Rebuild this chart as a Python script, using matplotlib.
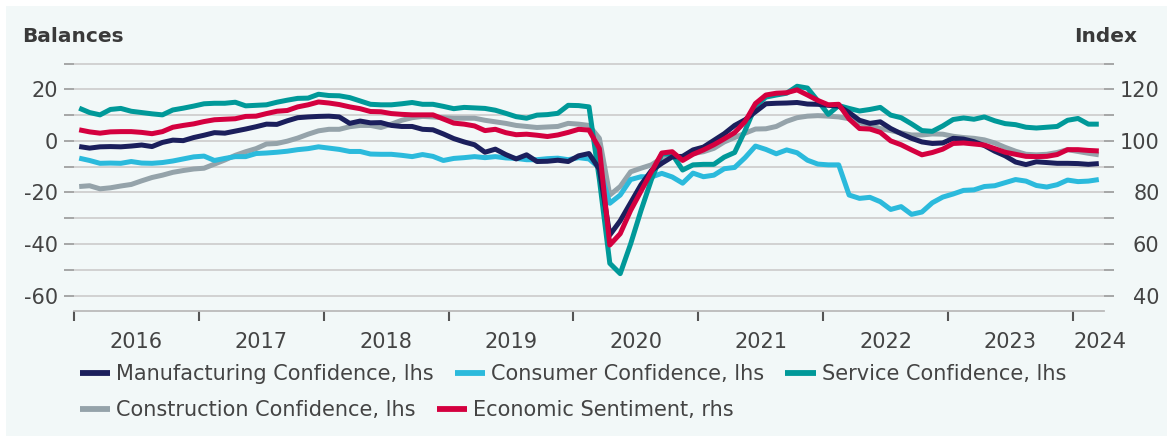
import numpy as np
import matplotlib
matplotlib.use('Agg')
import matplotlib.pyplot as plt
from matplotlib.patches import Rectangle
from matplotlib.lines import Line2D
from matplotlib.ticker import FixedLocator, FuncFormatter

plt.rcParams['font.family'] = ['DejaVu Sans']
plt.rcParams['axes.unicode_minus'] = False

# monthly data, Jan 2016 - Mar 2024
start_year = 2016
manufacturing = [-2.2, -2.8, -2.3, -2.2, -2.3, -2.0, -1.6, -2.2, -0.6, 0.3, 0.1, 1.3, 2.2, 3.2, 3.0, 3.8,
                 4.6, 5.5, 6.5, 6.4, 7.8, 9.0, 9.3, 9.5, 9.6,
                 9.3, 6.8, 7.7, 7.0, 7.1, 6.0, 5.6, 5.6, 4.5, 4.3, 2.7, 0.9, -0.4, -1.5, -4.4, -3.2,
                 -5.3, -7.0, -5.4, -8.0, -7.9, -7.5, -8.0, -5.8,
                 -4.9, -11.0, -36.5, -31.0, -24.0, -17.0, -11.5, -8.7, -6.2, -6.0, -3.5, -2.4, 0.2,
                 2.8, 6.0, 8.2, 11.3, 14.4, 14.6, 14.7, 14.9, 14.3, 14.2, 13.8,
                 13.5, 11.0, 8.0, 6.8, 7.4, 4.8, 2.8, 1.0, -0.4, -1.0, -0.8, 1.0, 0.7, -0.3, -1.8,
                 -4.0, -5.8, -8.2, -9.2, -8.1, -8.4, -8.7, -8.7, -8.8, -9.1, -8.8]
consumer = [-6.7, -7.6, -8.7, -8.6, -8.7, -8.0, -8.6, -8.7, -8.4, -7.8, -7.0, -6.2, -5.9, -7.6, -6.8, -6.1,
            -6.1, -4.9, -4.7, -4.4, -4.0, -3.4, -3.0, -2.3, -2.8,
            -3.3, -4.1, -4.1, -5.1, -5.2, -5.2, -5.6, -6.1, -5.3, -6.0, -7.6, -6.8, -6.5, -6.1, -6.5, -6.1,
            -6.6, -6.8, -7.3, -7.3, -6.9, -6.7, -7.3, -6.5,
            -7.0, -10.5, -24.2, -21.0, -15.0, -13.9, -14.0, -12.6, -14.0, -16.4, -12.5, -13.9, -13.3,
            -10.8, -10.3, -6.5, -2.0, -3.3, -5.0, -3.5, -4.6, -7.5, -9.0, -9.3,
            -9.3, -21.0, -22.3, -21.9, -23.6, -26.6, -25.5, -28.5, -27.6, -24.0, -21.8, -20.6, -19.2,
            -19.0, -17.7, -17.4, -16.2, -15.0, -15.6, -17.3, -17.9, -17.0, -15.2, -15.8, -15.6, -15.0]
service = [12.7, 11.0, 10.1, 12.2, 12.6, 11.5, 11.0, 10.5, 10.1, 12.0, 12.7, 13.5, 14.4, 14.6, 14.6, 15.0,
           13.6, 13.8, 14.0, 15.0, 15.8, 16.5, 16.6, 18.1, 17.6,
           17.5, 16.8, 15.5, 14.2, 14.0, 14.0, 14.4, 14.9, 14.2, 14.2, 13.4, 12.5, 13.0, 12.8, 12.6, 11.9,
           10.7, 9.4, 8.8, 10.0, 10.2, 10.7, 13.8, 13.7,
           13.2, -15.0, -47.5, -51.5, -40.0, -27.0, -15.0, -5.0, -5.2, -11.3, -9.3, -9.1, -9.1,
           -6.3, -4.5, 4.0, 13.5, 17.0, 17.8, 18.5, 21.2, 20.5, 15.5, 10.3,
           13.7, 12.6, 11.6, 12.2, 13.0, 10.0, 9.0, 6.6, 4.0, 3.7, 5.8, 8.3, 8.9,
           8.4, 9.3, 7.8, 6.7, 6.3, 5.3, 5.0, 5.3, 5.6, 8.0, 8.7, 6.5, 6.5]
construction = [-17.7, -17.4, -18.6, -18.2, -17.5, -16.9, -15.5, -14.2, -13.3, -12.2, -11.5, -10.9, -10.6,
                -9.0, -7.4, -5.6, -4.2, -3.0, -1.2, -1.0, -0.1, 1.1, 2.6, 3.9, 4.5,
                4.5, 5.5, 6.0, 6.0, 5.2, 6.5, 8.0, 9.0, 9.5, 9.3, 9.0, 8.8, 8.8, 8.8, 8.0, 7.4,
                6.8, 6.0, 5.6, 5.2, 5.4, 5.6, 6.8, 6.5,
                6.0, 1.0, -21.0, -17.7, -12.0, -10.6, -9.3, -6.7, -5.4, -6.7, -4.9, -4.2, -2.9,
                -0.4, 1.3, 3.0, 4.6, 4.7, 5.6, 7.6, 9.0, 9.6, 9.8, 9.6,
                9.3, 8.6, 7.0, 6.0, 4.8, 4.0, 3.1, 2.3, 2.3, 2.7, 2.6, 1.8, 1.3,
                1.0, 0.4, -0.8, -2.5, -4.0, -5.2, -5.4, -5.2, -4.5, -3.4, -4.1, -4.8, -5.4]
sentiment = [104.3, 103.5, 103.0, 103.5, 103.6, 103.6, 103.3, 102.8, 103.6, 105.3, 106.0, 106.6, 107.5,
             108.2, 108.4, 108.6, 109.5, 109.6, 110.6, 111.5, 111.8, 113.2, 114.0, 115.1, 114.7,
             114.1, 113.2, 112.5, 111.4, 111.3, 110.6, 110.3, 110.1, 110.1, 110.1, 108.5, 106.9, 106.5,
             105.8, 104.0, 104.5, 103.2, 102.4, 102.6, 102.2, 101.7, 102.3, 103.3, 104.5,
             104.2, 97.0, 59.6, 64.0, 73.0, 80.5, 88.0, 95.3, 95.8, 92.4, 94.8, 96.5, 98.5,
             100.8, 103.2, 107.5, 114.5, 117.8, 118.5, 118.7, 119.8, 117.8, 115.7, 114.0,
             114.2, 108.5, 104.8, 104.6, 103.3, 100.0, 98.5, 96.5, 94.6, 95.5, 96.8, 99.0, 99.2,
             98.8, 98.4, 97.0, 95.6, 94.8, 94.0, 93.9, 94.0, 94.7, 96.6, 96.6, 96.3, 96.1]

years = list(range(2016, 2025))
labels = ['Manufacturing Confidence, lhs', 'Consumer Confidence, lhs', 'Service Confidence, lhs',
          'Construction Confidence, lhs', 'Economic Sentiment, rhs']
colors = ['#1b1f5c', '#2bbadc', '#009999', '#95a3aa', '#d4003f']

bg = '#f2f8f8'
txt = '#444444'
lw = 3.6

t = start_year + (np.arange(len(manufacturing)) + 0.5) / 12

fig = plt.figure(figsize=(11.67, 4.38), dpi=100)
fig.patch.set_facecolor('white')
fig.patches.append(Rectangle((6/1167, 2/438), 1161/1167, 430/438, transform=fig.transFigure,
                             facecolor=bg, edgecolor='none', zorder=-10))

ax = fig.add_axes([74/1167, 1 - 311/438, 1030/1167, 250/438])
ax.patch.set_visible(False)
ax2 = ax.twinx()
ax2.patch.set_visible(False)

ax.plot(t, construction, color=colors[3], lw=lw, solid_capstyle='butt')
ax.plot(t, consumer, color=colors[1], lw=lw, solid_capstyle='butt')
ax.plot(t, service, color=colors[2], lw=lw, solid_capstyle='butt')
ax.plot(t, manufacturing, color=colors[0], lw=lw, solid_capstyle='butt')
ax2.plot(t, sentiment, color=colors[4], lw=lw, solid_capstyle='butt')

xmax = 2024.25
ax.set_xlim(2016, xmax)
ax.set_ylim(-66, 31)
ax2.set_ylim(34, 131)

fmt = FuncFormatter(lambda v, p: '%d' % v if round(v) % 20 == 0 else '')
ax.yaxis.set_major_locator(FixedLocator(np.arange(-60, 31, 10)))
ax.yaxis.set_major_formatter(fmt)
ax2.yaxis.set_major_locator(FixedLocator(np.arange(40, 131, 10)))
ax2.yaxis.set_major_formatter(fmt)
ax.grid(axis='y', color='#cfcfcf', lw=1.3)
ax.set_axisbelow(True)

for a in (ax, ax2):
    for s in ('left', 'right', 'top'):
        a.spines[s].set_visible(False)
ax2.spines['bottom'].set_visible(False)
ax.spines['bottom'].set_color('#bbbbbb')
ax.spines['bottom'].set_linewidth(1.3)

ax.tick_params(axis='y', length=7, width=1.2, color='#999999', pad=4.5, labelsize=15, labelcolor=txt)
ax2.tick_params(axis='y', length=7, width=1.2, color='#999999', pad=33, labelsize=15, labelcolor=txt)
plt.setp(ax2.get_yticklabels(), ha='right')

# year ticks at boundaries, labels centred between them (last one squeezed to the right edge)
ax.set_xticks(years)
ax.set_xticklabels([])
mids = [y + 0.5 for y in years[:-1]] + [years[-1] + 0.22]
ax.set_xticks(mids, minor=True)
ax.set_xticklabels([str(y) for y in years], minor=True)
ax.tick_params(axis='x', which='major', length=7, width=1.5, color='#555555')
ax.tick_params(axis='x', which='minor', length=0, pad=15, labelsize=15, labelcolor=txt)

fig.text(22/1167, 1 - 42/438, 'Balances', fontsize=14.5, fontweight='bold', color='#3a3a3a', va='baseline')
fig.text(1137/1167, 1 - 42/438, 'Index', fontsize=14.5, fontweight='bold', color='#3a3a3a',
         va='baseline', ha='right')

handles = [Line2D([], [], color=c, lw=4.2, solid_capstyle='butt') for c in colors]
leg_kw = dict(frameon=False, fontsize=15, handlelength=1.45, handletextpad=0.3, columnspacing=1.0,
              borderpad=0, borderaxespad=0, labelcolor=txt, loc='center left')
fig.legend(handles[:3], labels[:3], ncol=3, bbox_to_anchor=(80/1167, 1 - 374/438), **leg_kw)
fig.legend(handles[3:], labels[3:], ncol=2, bbox_to_anchor=(80/1167, 1 - 410/438), **leg_kw)

fig.savefig('out.png', dpi=100, facecolor=fig.get_facecolor())
